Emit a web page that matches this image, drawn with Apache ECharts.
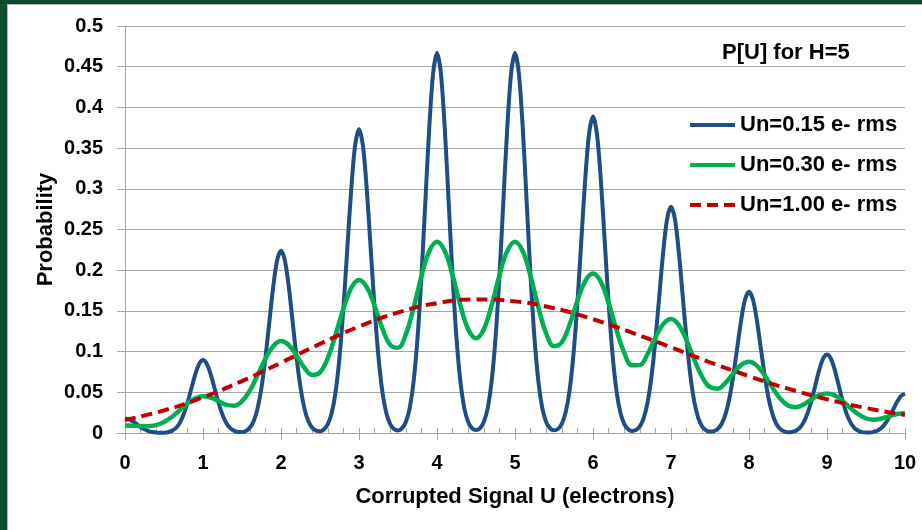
<!DOCTYPE html>
<html>
<head>
<meta charset="utf-8">
<script src="https://cdn.jsdelivr.net/npm/echarts@6/dist/echarts.min.js"></script>
<style>
html,body{margin:0;padding:0;background:#fff;}
#chart{width:922px;height:530px;}
</style>
</head>
<body>
<div id="chart"></div>
<script>
// ---- data ----
const xTickLabels = ['0','1','2','3','4','5','6','7','8','9','10'];
const seriesNames = ['Un=0.15 e- rms', 'Un=0.30 e- rms', 'Un=1.00 e- rms'];

const uBlue = [
0.00,0.05,0.10,0.15,0.20,0.25,0.30,0.35,0.40,0.45,0.50,0.55,0.60,0.65,0.70,0.75,0.80,0.85,0.90,0.95,
1.00,1.05,1.10,1.15,1.20,1.25,1.30,1.35,1.40,1.45,1.50,1.55,1.60,1.65,1.70,1.75,1.80,1.85,1.90,1.95,
2.00,2.05,2.10,2.15,2.20,2.25,2.30,2.35,2.40,2.45,2.50,2.55,2.60,2.65,2.70,2.75,2.80,2.85,2.90,2.95,
3.00,3.05,3.10,3.15,3.20,3.25,3.30,3.35,3.40,3.45,3.50,3.55,3.60,3.65,3.70,3.75,3.80,3.85,3.90,3.95,
4.00,4.05,4.10,4.15,4.20,4.25,4.30,4.35,4.40,4.45,4.50,4.55,4.60,4.65,4.70,4.75,4.80,4.85,4.90,4.95,
5.00,5.05,5.10,5.15,5.20,5.25,5.30,5.35,5.40,5.45,5.50,5.55,5.60,5.65,5.70,5.75,5.80,5.85,5.90,5.95,
6.00,6.05,6.10,6.15,6.20,6.25,6.30,6.35,6.40,6.45,6.50,6.55,6.60,6.65,6.70,6.75,6.80,6.85,6.90,6.95,
7.00,7.05,7.10,7.15,7.20,7.25,7.30,7.35,7.40,7.45,7.50,7.55,7.60,7.65,7.70,7.75,7.80,7.85,7.90,7.95,
8.00,8.05,8.10,8.15,8.20,8.25,8.30,8.35,8.40,8.45,8.50,8.55,8.60,8.65,8.70,8.75,8.80,8.85,8.90,8.95,
9.00,9.05,9.10,9.15,9.20,9.25,9.30,9.35,9.40,9.45,9.50,9.55,9.60,9.65,9.70,9.75,9.80,9.85,9.90,9.95,
10.00];
const pBlue = [
0.0179,0.0170,0.0144,0.0109,0.0074,0.0045,0.0024,0.0012,0.0005,0.0003,0.0004,0.0010,0.0026,0.0059,0.0121,0.0224,0.0368,0.0543,0.0717,0.0848,
0.0896,0.0848,0.0717,0.0543,0.0368,0.0223,0.0121,0.0059,0.0026,0.0013,0.0012,0.0026,0.0064,0.0147,0.0303,0.0559,0.0921,0.1359,0.1794,0.2119,
0.2240,0.2119,0.1794,0.1359,0.0921,0.0559,0.0303,0.0147,0.0065,0.0029,0.0023,0.0044,0.0108,0.0245,0.0505,0.0931,0.1535,0.2264,0.2989,0.3531,
0.3733,0.3531,0.2989,0.2264,0.1535,0.0931,0.0505,0.0245,0.0108,0.0047,0.0032,0.0056,0.0135,0.0307,0.0631,0.1164,0.1919,0.2831,0.3737,0.4415,
0.4667,0.4415,0.3737,0.2831,0.1919,0.1164,0.0631,0.0307,0.0135,0.0057,0.0036,0.0057,0.0135,0.0307,0.0631,0.1164,0.1919,0.2831,0.3737,0.4415,
0.4667,0.4415,0.3737,0.2831,0.1919,0.1164,0.0631,0.0307,0.0135,0.0057,0.0033,0.0049,0.0113,0.0256,0.0526,0.0970,0.1599,0.2359,0.3114,0.3679,
0.3889,0.3679,0.3114,0.2359,0.1599,0.0970,0.0526,0.0256,0.0112,0.0047,0.0026,0.0036,0.0081,0.0183,0.0376,0.0693,0.1142,0.1685,0.2224,0.2628,
0.2778,0.2628,0.2224,0.1685,0.1142,0.0693,0.0376,0.0183,0.0080,0.0033,0.0017,0.0023,0.0051,0.0114,0.0235,0.0433,0.0714,0.1053,0.1390,0.1642,
0.1736,0.1642,0.1390,0.1053,0.0714,0.0433,0.0235,0.0114,0.0050,0.0021,0.0010,0.0013,0.0028,0.0063,0.0131,0.0241,0.0397,0.0585,0.0773,0.0913,
0.0965,0.0913,0.0773,0.0585,0.0397,0.0241,0.0131,0.0063,0.0028,0.0011,0.0006,0.0006,0.0014,0.0032,0.0065,0.0120,0.0198,0.0292,0.0386,0.0456,
0.0482];

const uGreen = [
0.0,0.1,0.2,0.3,0.4,0.5,0.6,0.7,0.8,0.9,
1.0,1.1,1.2,1.3,1.4,1.5,1.6,1.7,1.8,1.9,
2.0,2.1,2.2,2.3,2.4,2.5,2.6,2.7,2.8,2.9,
3.0,3.1,3.2,3.3,3.4,3.5,3.6,3.7,3.8,3.9,
4.0,4.1,4.2,4.3,4.4,4.5,4.6,4.7,4.8,4.9,
5.0,5.1,5.2,5.3,5.4,5.5,5.6,5.7,5.8,5.9,
6.0,6.1,6.2,6.3,6.4,6.5,6.6,6.7,6.8,6.9,
7.0,7.1,7.2,7.3,7.4,7.5,7.6,7.7,7.8,7.9,
8.0,8.1,8.2,8.3,8.4,8.5,8.6,8.7,8.8,8.9,
9.0,9.1,9.2,9.3,9.4,9.5,9.6,9.7,9.8,9.9,
10.0];
const pGreen = [
0.0091,0.0090,0.0085,0.0084,0.0097,0.0134,0.0196,0.0278,0.0362,0.0426,
0.0453,0.0436,0.0391,0.0345,0.0336,0.0391,0.0521,0.0709,0.0911,0.1067,
0.1129,0.1081,0.0951,0.0802,0.0713,0.0745,0.0919,0.1206,0.1528,0.1781,
0.1880,0.1793,0.1563,0.1286,0.1083,0.1048,0.1212,0.1538,0.1923,0.2231,
0.2349,0.2235,0.1936,0.1568,0.1275,0.1164,0.1275,0.1569,0.1936,0.2235,
0.2350,0.2231,0.1925,0.1543,0.1222,0.1067,0.1115,0.1333,0.1624,0.1867,
0.1958,0.1857,0.1598,0.1270,0.0987,0.0831,0.0834,0.0970,0.1169,0.1337,
0.1400,0.1326,0.1138,0.0899,0.0688,0.0563,0.0545,0.0618,0.0735,0.0837,
0.0875,0.0828,0.0710,0.0558,0.0422,0.0337,0.0316,0.0350,0.0411,0.0466,
0.0486,0.0460,0.0393,0.0308,0.0231,0.0180,0.0164,0.0178,0.0207,0.0234,
0.0244];

const uRed = [0.0,0.5,1.0,1.5,2.0,2.5,3.0,3.5,4.0,4.5,5.0,5.5,6.0,6.5,7.0,7.5,8.0,8.5,9.0,9.5,10.0];
const pRed = [0.0160,0.0278,0.0438,0.0638,0.0864,0.1095,0.1308,0.1480,0.1595,0.1641,0.1617,0.1532,0.1398,0.1233,0.1052,0.0869,0.0698,0.0545,0.0414,0.0307,0.0222];

// ---- chart ----
const FONT = '"Liberation Sans", Arial, sans-serif';
const pair = (xs, ys) => xs.map((x, i) => [x, ys[i]]);
const GRID_C = '#a6a6a6';

const chart = echarts.init(document.getElementById('chart'), null, {renderer: 'canvas'});
chart.setOption({
  animation: false,
  backgroundColor: '#ffffff',
  title: {
    text: 'P[U] for H=5',
    left: 722, top: 42, padding: 0,
    textStyle: {fontFamily: FONT, fontSize: 22, fontWeight: 'bold', color: '#000'}
  },
  legend: {
    orient: 'vertical',
    left: 688, top: 114, padding: 0,
    itemWidth: 45, itemHeight: 14, itemGap: 18,
    data: seriesNames,
    itemStyle: {opacity: 0},
    lineStyle: {width: 4},
    textStyle: {fontFamily: FONT, fontSize: 22, fontWeight: 'bold', color: '#000', lineHeight: 22}
  },
  grid: {left: 125, top: 26, right: 17, bottom: 97, containLabel: false},
  xAxis: [{
    type: 'value', min: 0, max: 10, interval: 1,
    name: 'Corrupted Signal U (electrons)', nameLocation: 'middle', nameGap: 53,
    nameMoveOverlap: false,
    nameTextStyle: {fontFamily: FONT, fontSize: 22, fontWeight: 'bold', color: '#000'},
    axisLine: {show: true, lineStyle: {color: GRID_C, width: 1}},
    axisTick: {show: true, length: 7, inside: false, lineStyle: {color: GRID_C}},
    axisLabel: {margin: 20, fontFamily: FONT, fontSize: 20, fontWeight: 'bold', color: '#000',
      formatter: (v) => xTickLabels[Math.round(v)]},
    splitLine: {show: false}
  }, {
    type: 'value', min: 0, max: 10, interval: 0.2, position: 'bottom', offset: 0,
    axisLine: {show: false},
    axisTick: {show: true, length: 5, inside: true, lineStyle: {color: GRID_C}},
    axisLabel: {show: false},
    splitLine: {show: false}
  }],
  yAxis: {
    type: 'value', min: 0, max: 0.5, interval: 0.05,
    name: 'Probability', nameLocation: 'middle', nameGap: 68, nameRotate: 90,
    nameMoveOverlap: false,
    nameTextStyle: {fontFamily: FONT, fontSize: 22, fontWeight: 'bold', color: '#000'},
    axisLine: {show: true, lineStyle: {color: GRID_C, width: 1}},
    axisTick: {show: true, length: 8, lineStyle: {color: GRID_C}},
    axisLabel: {margin: 22, fontFamily: FONT, fontSize: 20, fontWeight: 'bold', color: '#000'},
    splitLine: {show: true, lineStyle: {color: GRID_C, width: 1}}
  },
  series: [{
    name: seriesNames[0], type: 'line', xAxisIndex: 0, data: pair(uBlue, pBlue),
    showSymbol: false, symbol: 'none', smooth: 0.3,
    lineStyle: {color: '#1f4e85', width: 4}, itemStyle: {color: '#1f4e85'}, z: 3
  }, {
    name: seriesNames[1], type: 'line', xAxisIndex: 0, data: pair(uGreen, pGreen),
    showSymbol: false, symbol: 'none', smooth: 0.4,
    lineStyle: {color: '#00b050', width: 4.5}, itemStyle: {color: '#00b050'}, z: 4
  }, {
    name: seriesNames[2], type: 'line', xAxisIndex: 0, data: pair(uRed, pRed),
    showSymbol: false, symbol: 'none', smooth: 0.5,
    lineStyle: {color: '#c00000', width: 4, type: [11, 6]}, itemStyle: {color: '#c00000'}, z: 5
  }],
  graphic: [
    {type: 'rect', left: 0, top: 0, shape: {width: 7, height: 530}, style: {fill: '#0b5130'}, z: 10},
    {type: 'rect', left: 0, top: 0, shape: {width: 922, height: 4}, style: {fill: '#0a4a2b'}, z: 10},
    {type: 'rect', left: 7, top: 4, shape: {width: 915, height: 1}, style: {fill: '#b5b5b5'}, z: 10},
    {type: 'rect', left: 7, top: 4, shape: {width: 1, height: 526}, style: {fill: '#b5b5b5'}, z: 10}
  ]
});
</script>
</body>
</html>
